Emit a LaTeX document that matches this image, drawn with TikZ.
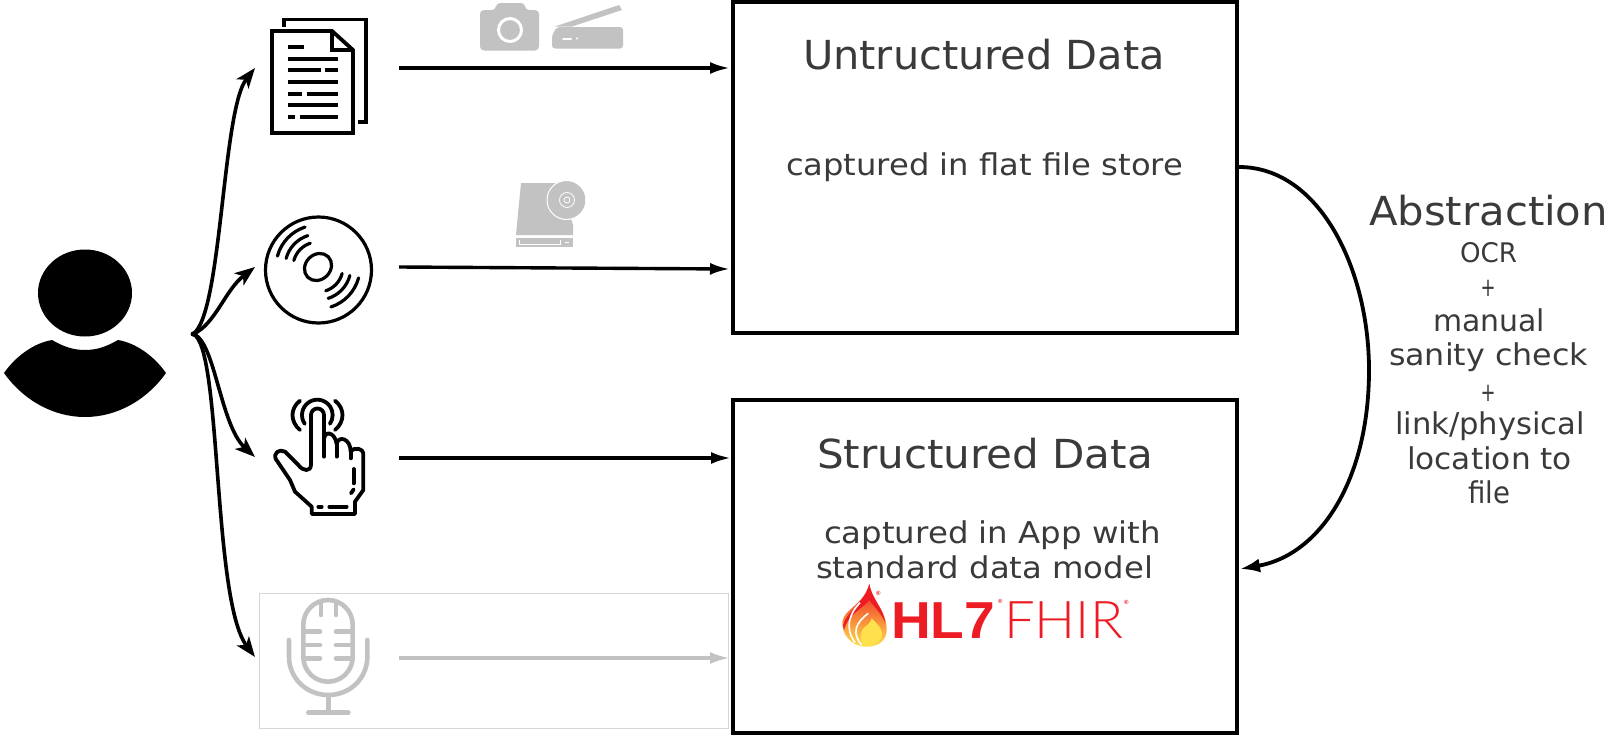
\documentclass[tikz,border=0pt]{standalone}
\usepackage{fontspec}
\usepackage{graphicx}
\usetikzlibrary{arrows.meta,calc}
\setmainfont{DejaVu Sans}
\newfontfamily\hlbold{Liberation Sans Bold}
\newfontfamily\hllight{Lato Light}
\definecolor{ink}{HTML}{3A3A3A}
\definecolor{ghost}{HTML}{C2C2C2}
\definecolor{hlred}{HTML}{ED1C24}
\definecolor{flameor}{HTML}{F58A1F}
\definecolor{flameye}{HTML}{FFE14D}
\newsavebox{\fwbox}
\newcommand{\fw}[2]{\sbox{\fwbox}{#2}\pgfmathsetmacro{\fwr}{#1/\the\wd\fwbox}\scalebox{\fwr}[1]{\usebox{\fwbox}}}
\tikzset{
  txt/.style={anchor=base west,inner sep=0pt,outer sep=0pt,text=ink},
  head/.style={txt,font=\fontsize{40}{40}\selectfont},
  sub/.style={txt,font=\fontsize{30}{30}\selectfont},
  bigbox/.style={draw=black,line width=4pt,minimum width=504pt,minimum height=331pt,inner sep=0pt,outer sep=0pt},
  flow/.style={line width=3.4pt,-{Latex[length=20pt,width=12pt]}},
  fan/.style={line width=3.6pt,-{Stealth[length=20pt,width=15pt,inset=5pt]}},
  icon/.style={line width=3.8pt,line cap=round,line join=round},
  ghosticon/.style={draw=ghost,line width=4.6pt,line cap=round,line join=round},
}
\begin{document}
\begin{tikzpicture}[x=1pt,y=-1pt]
\useasboundingbox (0,0) rectangle (1612,736);
% person
\fill (85,293) ellipse [x radius=47,y radius=43.5];
\fill (4,373) .. controls (16,356) and (34,343) .. (52,340)
  .. controls (64,347) and (74,350) .. (85,350)
  .. controls (96,350) and (106,347) .. (118,340)
  .. controls (136,343) and (154,356) .. (166,373)
  .. controls (146,401) and (116,417) .. (85,417)
  .. controls (54,417) and (24,401) .. (4,373) -- cycle;
% pale panel behind microphone
\draw[draw=black!16,line width=1pt] (259,593) rectangle (728,728);
% document icon
\begin{scope}[icon,line cap=butt,line join=miter]
  \draw (284,27) -- (284,19.5) -- (366,19.5) -- (366,122) -- (358,122);
  \draw (272,31) -- (332,31) -- (353,50) -- (353,133) -- (272,133) -- cycle;
  \draw (332,31) -- (332,50) -- (353,50);
  \foreach \yy/\aa/\bb in {47/288/304,59/288/338,70/288/321,70/325/338,82/288/338,94/288/302,94/307/338,105/288/338,117/288/295,117/300/338}
    \draw (\aa,\yy) -- (\bb,\yy);
\end{scope}
% disc icon
\begin{scope}[line width=3.2pt,line cap=round]
  \draw (318.5,270) circle [radius=53];
  \draw[rotate around={45:(318,267)}] (318,267) ellipse [x radius=14.5,y radius=12.5];
  \foreach \rr in {25,33,42}{
    \draw ($(318,267)+(195:\rr)$) arc [start angle=195,end angle=252,radius=\rr];
    \draw ($(318,267)+(15:\rr)$) arc [start angle=15,end angle=72,radius=\rr];
  }
\end{scope}
% hand icon
\begin{scope}[shift={(240,370)},scale=1/3,icon]
  \draw (215,432) -- (345,432) -- (345,395) -- (370,360) -- (370,250)
    .. controls (370,238) and (345,228) .. (332,245)
    .. controls (332,205) and (295,195) .. (290,222)
    .. controls (285,185) and (252,180) .. (252,210) -- (252,135)
    arc [start angle=0,end angle=-180,radius=19.5] -- (213,285)
    .. controls (212,305) and (190,305) .. (175,285)
    -- (135,245) .. controls (118,235) and (98,250) .. (108,268)
    -- (150,330) -- (165,365) -- (215,410) -- cycle;
  \draw (252,210) -- (252,260);
  \draw (290,222) -- (290,260);
  \draw (332,245) -- (332,265);
  \draw (341,297) -- (341,340);
  \draw (341,358) -- (333,370);
  \draw (235,410) -- (245,410);
  \draw (268,410) -- (320,410);
  \draw (194.3,161.4) arc [start angle=145,end angle=395,radius=46];
  \draw (180,92) .. controls (150,115) and (150,155) .. (180,180);
  \draw (285,92) .. controls (315,115) and (315,155) .. (285,180);
\end{scope}
% microphone icon
\begin{scope}[shift={(240,370)},scale=1/3]
  \draw[ghosticon] (190,764) arc [start angle=180,end angle=360,radius=74] -- (338,861)
     arc [start angle=0,end angle=180,radius=74] -- cycle;
  \foreach \yy in {785,825,865}{
    \draw[ghosticon] (190,\yy) -- (240,\yy);
    \draw[ghosticon] (288,\yy) -- (338,\yy);
  }
  \draw[ghosticon] (243,695) -- (243,735);
  \draw[ghosticon] (288,695) -- (288,735);
  \draw[ghosticon] (147,810) -- (147,860) .. controls (147,925) and (200,975) .. (265,975)
     .. controls (330,975) and (382,925) .. (382,860) -- (382,810);
  \draw[ghosticon] (265,975) -- (265,1028);
  \draw[ghosticon] (205,1028) -- (325,1028);
\end{scope}
% camera
\fill[ghost,rounded corners=4pt] (480,10) -- (496,10) -- (496,3) -- (525,3) -- (525,10) -- (539,10) -- (539,50.5) -- (480,50.5) -- cycle;
\draw[white,line width=3pt] (510,30) circle [radius=11.5];
% scanner
\fill[ghost,rounded corners=3pt] (552,35) -- (557,27) -- (623,27) -- (623,48.5) -- (552,48.5) -- cycle;
\fill[ghost] (555,26.5) -- (619,5) -- (622,10) -- (572,26.5) -- cycle;
\draw[white,line width=2pt,line cap=round] (563,38.5) -- (571,38.5);
\fill[white] (577,38.5) circle [radius=1.2];
% drive
\fill[ghost] (521,183) -- (560,183) -- (573,225) -- (573,235) -- (516,235) -- cycle;
\fill[ghost] (516,237.5) rectangle (573,247);
\draw[white,line width=.8pt] (519.5,240) -- (519.5,244.5) -- (560,244.5) -- (560,240);
\draw[white,line width=.8pt] (565,242.5) -- (569,242.5);
\begin{scope}
  \clip (540,175) rectangle (585,225);
  \fill[ghost,draw=white,line width=1pt] (566.5,200) circle [radius=19.5];
\end{scope}
\draw[white,line width=.8pt] (567,200) circle [radius=7.5];
\draw[white,line width=.8pt] (567,200) circle [radius=3];
% boxes
\node[bigbox] (unstr) at (985,167.5) {};
\node[bigbox,minimum height=333pt] (str) at (985,566.5) {};
% texts
\node[head] (t1) at (803,69) {\fw{362}{Untructured Data}};
\node[sub] (t2) at (786,175) {\fw{397}{captured in flat file store}};
\node[head] (t3) at (817,468) {\fw{336}{Structured Data}};
\node[sub] (t4) at (824,543) {\fw{337}{captured in App with}};
\node[sub] (t5) at (816,578) {\fw{337}{standard data model}};
\node[head] (t6) at (1369,225) {\fw{239}{Abstraction}};
\node[txt,font=\fontsize{27}{27}\selectfont] (a1) at (1460,262) {\fw{57}{OCR}};
\node[txt,font=\fontsize{26}{26}\selectfont] (a2) at (1480.5,296) {\fw{15}{+}};
\node[sub] (a3) at (1433,331) {\fw{112}{manual}};
\node[sub] (a4) at (1389,365) {\fw{199}{sanity check}};
\node[txt,font=\fontsize{26}{26}\selectfont] (a5) at (1480.5,401) {\fw{15}{+}};
\node[sub] (a6) at (1395,434) {\fw{190}{link/physical}};
\node[sub] (a7) at (1407,469) {\fw{165}{location to}};
\node[sub] (a8) at (1468,503) {\fw{42}{file}};
% HL7 FHIR logo
\node[txt,text=hlred,font=\hlbold\fontsize{52}{52}\selectfont] (hl) at (891,638) {\fw{104}{HL7}};
\node[txt,text=hlred,font=\hllight\fontsize{52}{52}\selectfont] (fhir) at (1004,638) {\fw{119}{FHIR}};
\node[txt,text=hlred,font=\hlbold\fontsize{6}{6}\selectfont] (r1) at (876,595) {®};
\node[txt,text=hlred,font=\hlbold\fontsize{6}{6}\selectfont] (r2) at (998,603) {®};
\node[txt,text=hlred,font=\hlbold\fontsize{6}{6}\selectfont] (r3) at (1124,604) {®};
\begin{scope}[shift={(780,400)},scale=1/3]
  \shade[top color=hlred,middle color=flameor,bottom color=flameye,shading angle=0]
    (268,552) .. controls (275,600) and (320,630) .. (320,690)
    .. controls (320,725) and (290,742) .. (255,740)
    .. controls (210,738) and (185,700) .. (187,665)
    .. controls (190,630) and (255,610) .. (268,552) -- cycle;
  \fill[hlred] (268,552) .. controls (275,600) and (312,625) .. (316,670)
    .. controls (305,640) and (285,625) .. (268,600)
    .. controls (250,625) and (205,640) .. (192,690)
    .. controls (175,650) and (250,620) .. (268,552) -- cycle;
  \fill[flameye] (275,655) .. controls (295,675) and (312,690) .. (305,712)
    .. controls (295,732) and (272,738) .. (255,738)
    .. controls (240,730) and (240,700) .. (250,685)
    .. controls (260,675) and (272,670) .. (275,655) -- cycle;
  \draw[white,line width=1.6pt] (240,608) .. controls (205,645) and (195,685) .. (225,728);
  \draw[white,line width=1.6pt] (265,640) .. controls (225,670) and (215,700) .. (245,735);
\end{scope}
% connector ends
\coordinate (hub) at (193,334);
\coordinate (docin) at (255,68);
\coordinate (discin) at (255,267);
\coordinate (handin) at (255,457);
\coordinate (micin) at (255,657);
\coordinate (docout) at (399,68);
\coordinate (discout) at (399,267);
\coordinate (handout) at (399,458);
\coordinate (micout) at (399,658);
\coordinate (unstrA) at (730,68);
\coordinate (unstrB) at (730,269);
\coordinate (strA) at (731,458);
\coordinate (strB) at (730,658);
\coordinate (abstrOut) at (1239,167);
\coordinate (abstrMid) at (1369,370);
\coordinate (abstrIn) at (1240,569);
% connectors
\draw[fan] (hub) .. controls (222,315) and (222,110) .. (docin);
\draw[fan] (hub) .. controls (215,325) and (225,290) .. (discin);
\draw[fan] (hub) .. controls (215,340) and (220,425) .. (handin);
\draw[fan] (hub) .. controls (222,345) and (212,600) .. (micin);
\fill (hub) circle [radius=2.5];
\draw[flow] (docout) -- (unstrA);
\draw[flow] (discout) -- (unstrB);
\draw[flow] (handout) -- (strA);
\draw[flow,ghost] (micout) -- (strB);
\draw[line width=3.8pt,-{Latex[length=20pt,width=14pt]}] (abstrOut) .. controls (1320,167) and (1369,270) .. (abstrMid)
  .. controls (1369,480) and (1320,555) .. (abstrIn);
\end{tikzpicture}
\end{document}
